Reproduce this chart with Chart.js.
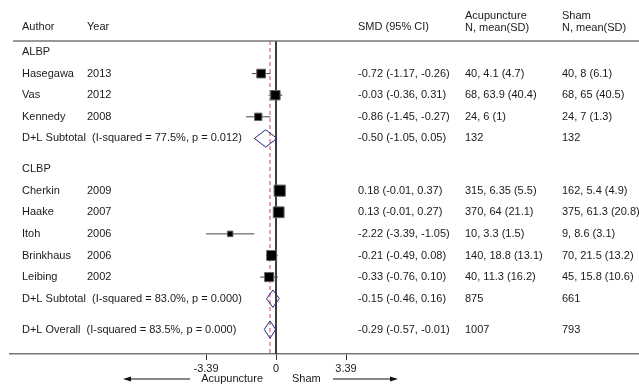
<!DOCTYPE html>
<html><head><meta charset="utf-8">
<script src="https://cdn.jsdelivr.net/npm/chart.js@4"></script>
<style>html,body{margin:0;padding:0;background:#fff}#wrap{width:639px;height:386px}</style>
</head><body><div id="wrap"><canvas id="c" width="639" height="386"></canvas></div>
<script>
// ---------- data ----------
const authors = ['Hasegawa','Vas','Kennedy','Cherkin','Haake','Itoh','Brinkhaus','Leibing'];
const years = ['2013','2012','2008','2009','2007','2006','2006','2002'];
const smd = [-0.72,-0.03,-0.86,0.18,0.13,-2.22,-0.21,-0.33];
const ciLow = [-1.17,-0.36,-1.45,-0.01,-0.01,-3.39,-0.49,-0.76];
const ciHigh = [-0.26,0.31,-0.27,0.37,0.27,-1.05,0.08,0.10];
const weights = [11.3,13.2,8.0,18.6,17.3,4.6,14.7,12.4]; // estimated from square sizes
const acuText = ['40, 4.1 (4.7)','68, 63.9 (40.4)','24, 6 (1)','315, 6.35 (5.5)','370, 64 (21.1)','10, 3.3 (1.5)','140, 18.8 (13.1)','40, 11.3 (16.2)'];
const shamText = ['40, 8 (6.1)','68, 65 (40.5)','24, 7 (1.3)','162, 5.4 (4.9)','375, 61.3 (20.8)','9, 8.6 (3.1)','70, 21.5 (13.2)','45, 15.8 (10.6)'];
const studyRows = [1,2,3,6.42,7.42,8.42,9.42,10.42];
const groupNames = ['ALBP','CLBP'];
const groupRows = [0,5.42];
const pooledLabels = ['D+L Subtotal  (I-squared = 77.5%, p = 0.012)','D+L Subtotal  (I-squared = 83.0%, p = 0.000)','D+L Overall  (I-squared = 83.5%, p = 0.000)'];
const pooledEst = [-0.50,-0.15,-0.29];
const pooledLow = [-1.05,-0.46,-0.57];
const pooledHigh = [0.05,0.16,-0.01];
const pooledAcu = ['132','875','1007'];
const pooledSham = ['132','661','793'];
const pooledRows = [4,11.42,12.85];
const tickValues = [-3.39,0,3.39];
const overallSMD = -0.29;

// ---------- layout ----------
const PX_PER_UNIT = 70/3.39, ZERO_PX = 276, LEFT = 10, RIGHT = 639;
const ROW_PX = 21.6, ROW0_PX = 52, PLOT_BOTTOM = 354, TOP_LINE = 41;
const xMin = -(ZERO_PX-LEFT)/PX_PER_UNIT, xMax = (RIGHT-ZERO_PX)/PX_PER_UNIT;
const yMin = -ROW0_PX/ROW_PX, yMax = (PLOT_BOTTOM-ROW0_PX)/ROW_PX;
const yTopLine = (TOP_LINE-ROW0_PX)/ROW_PX;
const DIAMOND_H = 0.4;
const FONT = '11px "Liberation Sans", Arial, sans-serif';
const TXT = '#1a1a1a';
const fmt = v => v.toFixed(2);

const datasets = [];
// squares (first = drawn on top)
datasets.push({
  type:'scatter',
  data: smd.map((v,i)=>({x:v,y:studyRows[i]})),
  pointStyle:'rect',
  pointRadius: weights.map(w => 2.6*Math.sqrt(w)/Math.SQRT2),
  backgroundColor:'#000', borderColor:'#666', borderWidth:1
});
// confidence intervals
smd.forEach((v,i)=>{
  datasets.push({type:'line', data:[{x:ciLow[i],y:studyRows[i]},{x:ciHigh[i],y:studyRows[i]}],
    borderColor:'#444', borderWidth:1, pointRadius:0, fill:false});
});
// diamonds
pooledEst.forEach((v,i)=>{
  const r = pooledRows[i];
  datasets.push({type:'line', data:[{x:pooledLow[i],y:r},{x:v,y:r-DIAMOND_H},{x:pooledHigh[i],y:r},{x:v,y:r+DIAMOND_H},{x:pooledLow[i],y:r}],
    borderColor:'#25257f', borderWidth:1, pointRadius:0, fill:false, tension:0});
});
// overall dashed line
datasets.push({type:'line', data:[{x:overallSMD,y:yTopLine},{x:overallSMD,y:yMax}],
  borderColor:'#c24a68', borderWidth:1, borderDash:[4,3], pointRadius:0, fill:false});
// null line
datasets.push({type:'line', data:[{x:0,y:yTopLine},{x:0,y:yMax}],
  borderColor:'#222', borderWidth:1, pointRadius:0, fill:false});

const textPlugin = {
  id:'forestText',
  afterDraw(chart){
    const ctx = chart.ctx, ys = chart.scales.y;
    const yp = r => ys.getPixelForValue(r);
    ctx.save();
    ctx.font = FONT; ctx.fillStyle = TXT; ctx.textBaseline='middle'; ctx.textAlign='left';
    // header
    ctx.fillText('Author',22,27); ctx.fillText('Year',87,27);
    ctx.fillText('SMD (95% CI)',358,27);
    ctx.fillText('Acupuncture',465,16); ctx.fillText('N, mean(SD)',465,27.5);
    ctx.fillText('Sham',562,16); ctx.fillText('N, mean(SD)',562,27.5);
    // top rule
    ctx.strokeStyle='#777'; ctx.lineWidth=1.5;
    ctx.beginPath(); ctx.moveTo(13,TOP_LINE); ctx.lineTo(639,TOP_LINE); ctx.stroke();
    // groups
    groupNames.forEach((g,i)=>ctx.fillText(g,22,yp(groupRows[i])));
    // studies
    authors.forEach((a,i)=>{
      const y = yp(studyRows[i]);
      ctx.fillText(a,22,y); ctx.fillText(years[i],87,y);
      ctx.fillText(`${fmt(smd[i])} (${fmt(ciLow[i])}, ${fmt(ciHigh[i])})`,358,y);
      ctx.fillText(acuText[i],465,y); ctx.fillText(shamText[i],562,y);
    });
    // pooled
    pooledLabels.forEach((l,i)=>{
      const y = yp(pooledRows[i]);
      ctx.fillText(l,22,y);
      ctx.fillText(`${fmt(pooledEst[i])} (${fmt(pooledLow[i])}, ${fmt(pooledHigh[i])})`,358,y);
      ctx.fillText(pooledAcu[i],465,y); ctx.fillText(pooledSham[i],562,y);
    });
    // direction labels and arrows
    const ay = 379;
    ctx.textAlign='right'; ctx.fillText('Acupuncture',263,ay);
    ctx.textAlign='left'; ctx.fillText('Sham',292,ay);
    ctx.strokeStyle='#111'; ctx.fillStyle='#111'; ctx.lineWidth=1;
    ctx.beginPath(); ctx.moveTo(190,ay); ctx.lineTo(128,ay); ctx.stroke();
    ctx.beginPath(); ctx.moveTo(123,ay); ctx.lineTo(131,ay-2.5); ctx.lineTo(131,ay+2.5); ctx.closePath(); ctx.fill();
    ctx.beginPath(); ctx.moveTo(333,ay); ctx.lineTo(393,ay); ctx.stroke();
    ctx.beginPath(); ctx.moveTo(398,ay); ctx.lineTo(390,ay-2.5); ctx.lineTo(390,ay+2.5); ctx.closePath(); ctx.fill();
    ctx.restore();
  }
};

new Chart(document.getElementById('c'),{
  data:{datasets},
  options:{
    responsive:false, animation:false, devicePixelRatio:1,
    layout:{autoPadding:false, padding:{left:LEFT,right:0,top:0,bottom:0}},
    plugins:{legend:{display:false},tooltip:{enabled:false}},
    scales:{
      x:{type:'linear', min:xMin, max:xMax, position:'bottom',
        afterBuildTicks: s => { s.ticks = tickValues.map(v=>({value:v})); },
        afterFit: s => { s.height = 386-PLOT_BOTTOM; },
        ticks:{autoSkip:false, maxRotation:0, padding:2, color:TXT, font:{family:'"Liberation Sans", Arial, sans-serif', size:11},
          callback: v => v===0 ? '0' : fmt(v)},
        grid:{drawOnChartArea:false, drawTicks:true, tickLength:6, color:'#333', lineWidth:1},
        border:{display:true, color:'#777', width:1.5}
      },
      y:{type:'linear', reverse:true, min:yMin, max:yMax, display:false}
    }
  },
  plugins:[textPlugin]
});
</script></body></html>
